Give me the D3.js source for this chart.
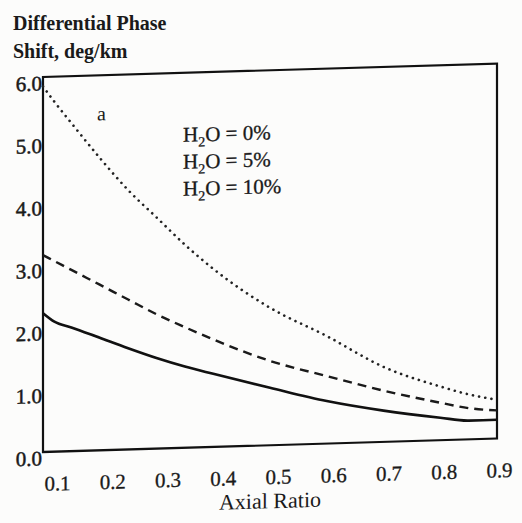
<!DOCTYPE html>
<html>
<head>
<meta charset="utf-8">
<script src="https://cdn.jsdelivr.net/npm/d3@7"></script>
<style>
  html, body { margin: 0; padding: 0; background: #fcfcfb; }
  svg { display: block; }
  text { font-family: "Liberation Serif", "Times New Roman", serif; fill: #1a1a1a; }
</style>
</head>
<body>
<svg id="chart" width="522" height="523"></svg>
<script>
// ---- data ----
const axialRatio = [0.1, 0.12, 0.15, 0.2, 0.25, 0.3, 0.35, 0.4, 0.5, 0.6, 0.7, 0.8, 0.85, 0.9];
const h2o0  = [5.85, 5.6, 5.25, 4.68, 4.15, 3.7, 3.25, 2.85, 2.2, 1.72, 1.2, 0.86, 0.72, 0.62];
const h2o5  = [3.15, 3.05, 2.9, 2.65, 2.4, 2.15, 1.93, 1.72, 1.35, 1.08, 0.82, 0.6, 0.5, 0.45];
const h2o10 = [2.22, 2.08, 1.98, 1.8, 1.62, 1.45, 1.3, 1.17, 0.92, 0.68, 0.5, 0.36, 0.3, 0.3];
const seriesNames = ["H\u2082O = 0%", "H\u2082O = 5%", "H\u2082O = 10%"];
const xTicks = [0.1, 0.2, 0.3, 0.4, 0.5, 0.6, 0.7, 0.8, 0.9];
const yTicks = [0, 1, 2, 3, 4, 5, 6];
const titleLines = ["Differential Phase", "Shift, deg/km"];
const xTitle = "Axial Ratio";
const panelLabel = "a";

// ---- layout ----
const svg = d3.select("#chart");
const x = d3.scaleLinear().domain([0.1, 0.9]).range([43, 497]);
const xLab = d3.scaleLinear().domain([0.1, 0.9]).range([57, 499]);
const y = d3.scaleLinear().domain([0, 6]).range([452, 77]);

// scanned page is slightly sheared
const g = svg.append("g").attr("transform", "translate(43,0) skewY(-1.7) translate(-43,0)");

// frame
g.append("rect")
  .attr("x", x(0.1)).attr("y", y(6))
  .attr("width", x(0.9) - x(0.1)).attr("height", y(0) - y(6))
  .attr("fill", "none").attr("stroke", "#111").attr("stroke-width", 2.2);

// y axis
const yAxis = g.append("g").attr("transform", `translate(${x(0.1)},0)`)
  .call(d3.axisLeft(y).tickValues(yTicks).tickSize(0).tickPadding(1).tickFormat(d3.format(".1f")));
yAxis.select(".domain").remove();
yAxis.selectAll("text").attr("dy", "0.62em")
  .style("font-family", '"Liberation Serif", serif').style("font-size", "21px")
  .attr("fill", "#1a1a1a").attr("stroke", "#1a1a1a").attr("stroke-width", 0.5);

// x axis labels
const xAxis = g.append("g").attr("transform", `translate(0,${y(0)})`)
  .call(d3.axisBottom(xLab).tickValues(xTicks).tickSize(0).tickPadding(24).tickFormat(d3.format(".1f")));
xAxis.select(".domain").remove();
xAxis.selectAll("text")
  .style("font-family", '"Liberation Serif", serif').style("font-size", "21px")
  .attr("fill", "#1a1a1a").attr("stroke", "#1a1a1a").attr("stroke-width", 0.3);

// curves
const line = d3.line().x(d => x(d[0])).y(d => y(d[1])).curve(d3.curveMonotoneX);
const mk = vals => axialRatio.map((a, i) => [a, vals[i]]);

g.append("path").datum(mk(h2o0)).attr("d", line)
  .attr("fill", "none").attr("stroke", "#222").attr("stroke-width", 2.6)
  .attr("stroke-linecap", "round").attr("stroke-dasharray", "0.1,6.2");
g.append("path").datum(mk(h2o5)).attr("d", line)
  .attr("fill", "none").attr("stroke", "#1a1a1a").attr("stroke-width", 2.4)
  .attr("stroke-dasharray", "9,6");
g.append("path").datum(mk(h2o10)).attr("d", line)
  .attr("fill", "none").attr("stroke", "#111").attr("stroke-width", 2.6);

// panel label and legend text
g.append("text").attr("x", 97).attr("y", 122).style("font-size", "20px").text(panelLabel);
const legend = g.append("g");
seriesNames.forEach((s, i) => {
  const t = legend.append("text").attr("x", 183).attr("y", 146 + i * 27)
    .style("font-size", "21px").attr("stroke", "#1a1a1a").attr("stroke-width", 0.3);
  t.append("tspan").text("H");
  t.append("tspan").attr("dy", 5).style("font-size", "14px").text("2");
  t.append("tspan").attr("dy", -5).text("O = " + s.split("= ")[1]);
});

// x title
g.append("text").attr("x", 270).attr("y", 515).attr("text-anchor", "middle")
  .style("font-size", "22px").text(xTitle);

// y title (top-left)
svg.selectAll(".ytitle").data(titleLines).enter().append("text")
  .attr("class", "ytitle")
  .attr("x", 13).attr("y", (d, i) => 30 + i * 28)
  .style("font-size", "20px").style("font-weight", "bold").text(d => d);
</script>
</body>
</html>
